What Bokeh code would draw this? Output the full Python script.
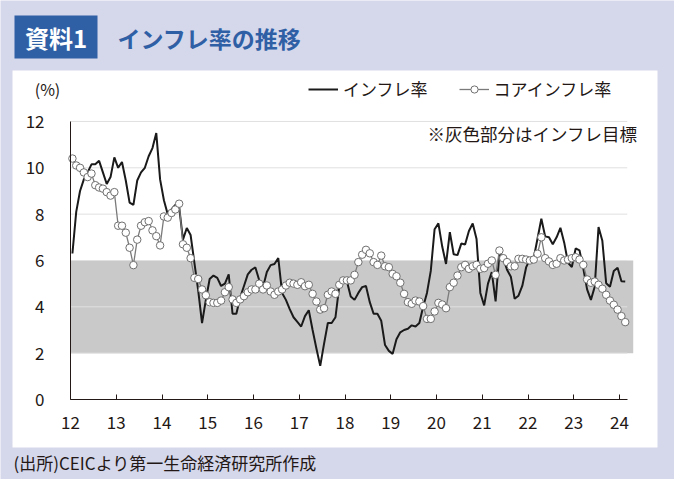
from bokeh.plotting import figure
from bokeh.models import Range1d, FixedTicker, Label, BoxAnnotation, Legend, LegendItem, LinearAxis
from bokeh.embed import file_html
from bokeh.resources import INLINE

# ---------------- data ----------------
START_YEAR = 12
YEAR_TICKS = list(range(12, 25))
Y_TICKS = [0, 2, 4, 6, 8, 10, 12]
TARGET_LOW, TARGET_HIGH = 2, 6

# Monthly, Jan 2012 .. Feb 2024 (%)
INFLATION = [
    6.3, 8.1, 9.0, 9.5, 9.8, 10.15, 10.15, 10.3, 9.8, 9.3, 9.6, 10.45,
    10.0, 10.25, 9.45, 8.5, 8.4, 9.45, 9.8, 10.0, 10.5, 10.85, 11.5, 9.5,
    8.6, 8.0, 8.2, 8.4, 8.3, 6.9, 7.4, 7.1, 5.9, 4.7, 3.3, 4.3,
    5.2, 5.35, 5.25, 4.9, 5.0, 5.4, 3.7, 3.7, 4.4, 4.9, 5.4, 5.6,
    5.7, 5.15, 4.85, 5.5, 5.8, 5.85, 6.1, 4.6, 4.3, 3.9, 3.55, 3.35,
    3.15, 3.6, 3.85, 3.0, 2.2, 1.45, 2.4, 3.3, 3.3, 3.55, 4.9, 5.2,
    5.1, 4.45, 4.3, 4.6, 4.85, 4.9, 4.2, 3.7, 3.7, 3.4, 2.35, 2.1,
    1.97, 2.6, 2.9, 3.0, 3.05, 3.2, 3.15, 3.3, 4.0, 4.6, 5.55, 7.35,
    7.6, 6.6, 5.85, 7.22, 6.27, 6.23, 6.73, 6.69, 7.27, 7.6, 6.93, 4.6,
    4.06, 5.0, 5.5, 4.23, 6.3, 6.1, 5.6, 5.3, 4.35, 4.48, 4.9, 5.7,
    6.05, 6.1, 6.95, 7.8, 7.04, 7.0, 6.7, 7.0, 7.41, 6.77, 5.9, 5.72,
    6.52, 6.44, 5.66, 4.75, 4.3, 4.87, 7.44, 6.85, 5.02, 4.87, 5.55, 5.69,
    5.1, 5.09,
]
CORE = [
    10.4, 10.1, 10.0, 9.8, 9.6, 9.75, 9.25, 9.15, 9.1, 8.95, 8.8, 8.95,
    7.5, 7.5, 7.2, 6.55, 5.8, 6.9, 7.5, 7.65, 7.7, 7.3, 7.05, 6.65,
    7.9, 7.85, 8.05, 8.2, 8.45, 6.7, 6.55, 6.1, 5.25, 5.2, 4.75, 4.5,
    4.2, 4.17, 4.17, 4.27, 4.63, 4.85, 4.32, 4.17, 4.32, 4.46, 4.63, 4.75,
    4.75, 5.0, 4.75, 4.92, 4.66, 4.52, 4.66, 4.75, 4.92, 5.04, 5.0, 4.95,
    5.06, 4.89, 4.95, 4.56, 4.23, 3.88, 3.94, 4.52, 4.66, 4.56, 4.95, 5.14,
    5.14, 5.14, 5.38, 5.93, 6.25, 6.46, 6.31, 5.93, 5.81, 6.21, 5.75, 5.71,
    5.42, 5.32, 5.04, 4.56, 4.2, 4.13, 4.27, 4.23, 4.03, 3.48, 3.48, 3.8,
    4.17, 4.1, 3.94, 4.85, 5.04, 5.35, 5.71, 5.81, 5.64, 5.75, 5.81, 5.64,
    5.67, 5.86, 6.0, 5.38, 6.43, 6.1, 5.93, 5.75, 5.75, 6.07, 6.07, 6.04,
    6.0, 6.04, 6.29, 7.0, 6.1, 5.96, 5.81, 5.86, 6.1, 6.0, 6.04, 6.1,
    6.14, 6.04, 5.81, 5.18, 5.04, 5.09, 4.95, 4.78, 4.52, 4.27, 4.09, 3.88,
    3.6, 3.34,
]

TITLE_TAG = "資料1"
TITLE = "インフレ率の推移"
SERIES_NAMES = ["インフレ率", "コアインフレ率"]
NOTE = "※灰色部分はインフレ目標"
UNIT = "(%)"
SOURCE = "(出所)CEICより第一生命経済研究所作成"

# ---------------- style / layout ----------------
FONT = "Noto Sans CJK JP"
BG = "#d5d7eb"
BLUE = "#2f5fa5"
INK = "#231815"
W, H = 674, 479
X0_PX, PX_PER_YEAR = 70, 45.75      # pixel of x=12, pixels per year
Y0_PX, PX_PER_UNIT = 399, 23.17     # pixel of y=0, pixels per 1 %pt
AXIS_END = 24.17
BAND_END = 24.3

x_inf = [START_YEAR + (i + 0.5) / 12 for i in range(len(INFLATION))]
x_core = [START_YEAR + (i + 0.5) / 12 for i in range(len(CORE))]

x_range = Range1d(START_YEAR - X0_PX / PX_PER_YEAR, START_YEAR + (W - X0_PX) / PX_PER_YEAR)
y_range = Range1d(-(H - Y0_PX) / PX_PER_UNIT, Y0_PX / PX_PER_UNIT)

p = figure(width=W, height=H, output_backend="svg", toolbar_location=None,
           x_range=x_range, y_range=y_range, x_axis_type=None, y_axis_type=None,
           min_border=0)
p.border_fill_color = BG
p.background_fill_color = BG
p.outline_line_color = None
p.xgrid.visible = False
p.ygrid.visible = False

# white panel
p.add_layout(BoxAnnotation(left=12, right=657, top=70, bottom=447,
                           left_units="canvas", right_units="canvas",
                           top_units="canvas", bottom_units="canvas",
                           fill_color="white", fill_alpha=1, line_color=None, level="image"))

# target band and grid lines
p.quad(left=START_YEAR, right=BAND_END, bottom=TARGET_LOW, top=TARGET_HIGH,
       fill_color="#c9c9c9", line_color=None)
p.segment(x0=[START_YEAR] * len(Y_TICKS[1:]), x1=[AXIS_END] * len(Y_TICKS[1:]),
          y0=Y_TICKS[1:], y1=Y_TICKS[1:], line_color="#e0e0e0", line_width=1)

# axes
xaxis = LinearAxis(fixed_location=0, bounds=(START_YEAR, AXIS_END),
                   ticker=FixedTicker(ticks=YEAR_TICKS))
yaxis = LinearAxis(fixed_location=START_YEAR, bounds=(0, 12),
                   ticker=FixedTicker(ticks=Y_TICKS))
for ax in (xaxis, yaxis):
    ax.axis_line_color = INK
    ax.axis_line_width = 1
    ax.minor_tick_line_color = None
    ax.major_label_text_font = FONT
    ax.major_label_text_font_size = "17px"
    ax.major_label_text_color = INK
yaxis.major_tick_line_color = None
yaxis.major_label_standoff = 20
xaxis.major_tick_in = 5
xaxis.major_tick_out = 0
xaxis.major_tick_line_color = INK
xaxis.major_label_standoff = 16
p.add_layout(xaxis, "below")
p.add_layout(yaxis, "left")

# series
r_inf = p.line(x_inf, INFLATION, line_color="#1a1a1a", line_width=2)
r_core_line = p.line(x_core, CORE, line_color="#7a7a7a", line_width=1.3)
r_core_pts = p.scatter(x_core, CORE, marker="circle", size=7.5, fill_color="white",
                       line_color="#707070", line_width=1)

legend = Legend(items=[LegendItem(label=SERIES_NAMES[0], renderers=[r_inf]),
                       LegendItem(label=SERIES_NAMES[1], renderers=[r_core_line, r_core_pts])],
                orientation="horizontal", location=(308, H - 101),
                glyph_width=30, glyph_height=18, label_standoff=5, spacing=31,
                padding=0, margin=0, border_line_color=None, background_fill_alpha=0,
                label_text_font=FONT, label_text_font_size="17px", label_text_color=INK,
                label_height=18)
p.add_layout(legend)

# title block and texts
p.add_layout(BoxAnnotation(left=14, right=97, top=15, bottom=58,
                           left_units="canvas", right_units="canvas",
                           top_units="canvas", bottom_units="canvas",
                           fill_color=BLUE, fill_alpha=1, line_color=None))
p.add_layout(Label(x=55.5, y=37, x_units="canvas", y_units="canvas", text=TITLE_TAG,
                   text_align="center", text_baseline="middle", text_font=FONT,
                   text_font_size="24px", text_font_style="bold", text_color="white"))
p.add_layout(Label(x=117, y=37, x_units="canvas", y_units="canvas", text=TITLE,
                   text_align="left", text_baseline="middle", text_font=FONT,
                   text_font_size="23px", text_font_style="bold", text_color=BLUE))
p.add_layout(Label(x=47, y=88, x_units="canvas", y_units="canvas", text=UNIT,
                   text_align="center", text_baseline="middle", text_font=FONT,
                   text_font_size="16px", text_color=INK))
p.add_layout(Label(x=637, y=133, x_units="canvas", y_units="canvas", text=NOTE,
                   text_align="right", text_baseline="middle", text_font=FONT,
                   text_font_size="17.5px", text_color=INK))
p.add_layout(Label(x=13, y=462, x_units="canvas", y_units="canvas", text=SOURCE,
                   text_align="left", text_baseline="middle", text_font=FONT,
                   text_font_size="17px", text_color=INK))

open("out.html", "w").write(file_html(p, INLINE))
